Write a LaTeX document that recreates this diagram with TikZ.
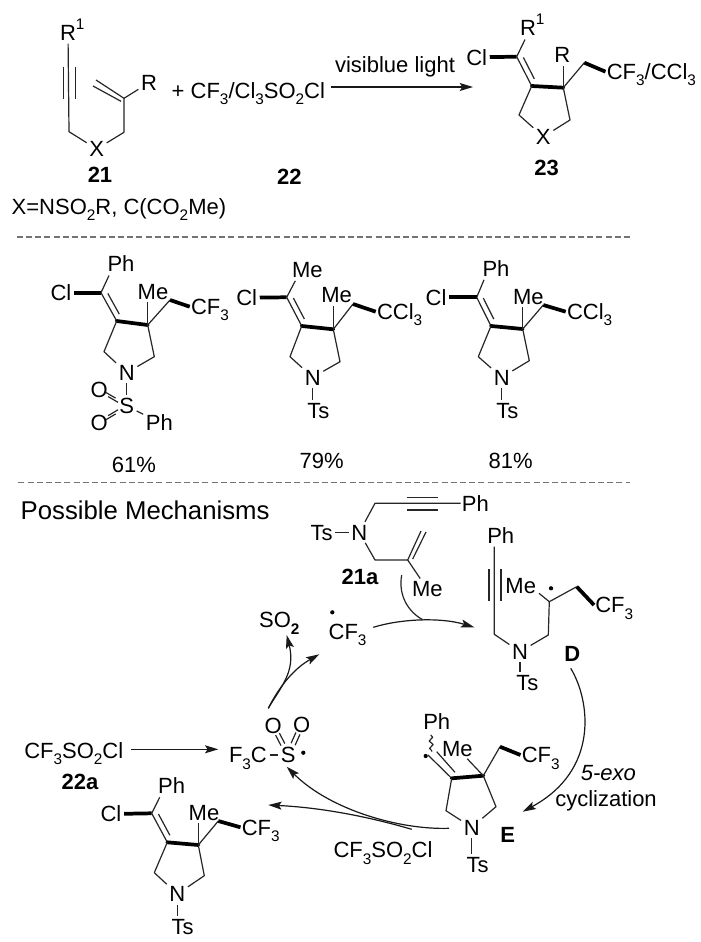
\documentclass[tikz,border=0pt]{standalone}
\usepackage{fontspec}
\setmainfont{Liberation Sans}
\usetikzlibrary{calc,arrows.meta,decorations.pathmorphing}
\newcommand\dn[1]{\raisebox{-0.28em}{\fontsize{11.5}{11.5}\selectfont #1}}
\newcommand\up[1]{\rlap{\raisebox{0.5em}{\fontsize{11.5}{11.5}\selectfont #1}}}
\newcommand\dbl[4]{%
  \draw[bond] ($(#1)!.36!(#2)+(#3,#4)$) -- ($(#1)!.72!(#2)+(#3,#4)$);
  \draw[bond] ($(#1)!.36!(#2)-(#3,#4)$) -- ($(#1)!.72!(#2)-(#3,#4)$);}
% common skeleton of the chlorovinyl pyrrolidines
\newcommand\scaffold[2]{%
  \draw[bond] (#1v) -- ($(#1top.south)+(#2,1)$);
  \draw[wedge] (#1cl) -- (#1v);
  \draw[bond] (#1v) -- (#1c1);
  \draw[bond] ($(#1v)!0.12!(#1c1)+(4.9,-2.7)$) -- ($(#1v)!0.85!(#1c1)+(4.9,-2.7)$);
  \draw[wedge,line cap=round] (#1c1) -- (#1c2);
  \draw[bond] (#1c1) -- (#1l) -- (#1n);
  \draw[bond] (#1c2) -- (#1r) -- (#1n);
  \draw[bond] (#1c2) -- (#1c2 |- #1me.south);
  \draw[bond] (#1c2) -- (#1m);
  \draw[wedge] (#1m) -- (#1lab.west);}
\tikzset{
  lab/.style={inner sep=2pt,outer sep=0pt,text height=11.8pt,text depth=0pt,text=black},
  tail/.style={lab,anchor=west,inner sep=1pt},
  bond/.style={line width=0.9pt,draw=black!85,line join=round},
  wedge/.style={line width=2.8pt,draw=black},
  arr/.style={line width=0.9pt,draw=black!90,-{Stealth[length=10pt,width=6pt,inset=2pt]}},
  arrs/.style={arr,line width=1.15pt},
  sep/.style={line width=0.85pt,draw=black!55,dash pattern=on 4.5pt off 2.4pt},
  rad/.style={circle,fill=black,inner sep=0pt,minimum size=3.2pt},
}
\begin{document}
\begin{tikzpicture}[x=0.75pt,y=-0.75pt,font=\fontsize{16.5}{18}\selectfont]
\path[fill=white,use as bounding box] (0,0) rectangle (700,942);

% ---------- reaction scheme: 21
\node[lab] (r1a) at (68,33) {R\up{1}};
\coordinate (t1) at (69,131.7);
\node[lab] (x21) at (96.7,149) {X};
\coordinate (t2) at (124,132.3);
\coordinate (t3) at (124,98.3);
\coordinate (t4) at (96,80);
\node[lab] (r21) at (149,82.7) {R};
\draw[bond] (r1a) -- (t1) -- (x21) -- (t2) -- (t3) -- (r21);
\draw[bond] (t3) -- (t4);
\draw[bond] ($(t3)+(-3,3)$) -- ($(t4)+(-3,6)$);
\coordinate (t5) at (69,66.7);
\coordinate (t6) at (69,99);
\draw[bond] ($(t5)+(-5.7,0)$) -- ($(t6)+(-5.7,0)$);
\draw[bond] ($(t5)+(6.7,0)$) -- ($(t6)+(6.7,0)$);
\node[lab,font=\fontsize{16.5}{18}\selectfont\bfseries] (n21) at (100,175) {21};
\node[lab,anchor=west,inner sep=0pt] (xdef) at (11.7,206.7) {X=NSO\dn{2}R, C(CO\dn{2}Me)};
\node[lab,anchor=west,inner sep=0pt] (reag) at (171.7,90.7) {+ CF\dn{3}/Cl\dn{3}SO\dn{2}Cl};
\node[lab,font=\fontsize{16.5}{18}\selectfont\bfseries] (n22) at (289.3,176.7) {22};
\coordinate (a1s) at (331,87);
\coordinate (a1e) at (473,87);
\draw[arrs] (a1s) -- (a1e);
\node[lab] (vis) at (395,65) {visiblue light};

% ---------- product 23
\coordinate (pv) at (516.7,56.7);
\coordinate (pc1) at (531.7,86);
\coordinate (pc2) at (563.3,87.7);
\coordinate (pl) at (519,115);
\coordinate (pr) at (570,120);
\coordinate (pm) at (584.3,62.7);
\node[lab] (pcl) at (476.7,57.3) {Cl};
\node[lab] (ptop) at (528,28) {R\up{1}};
\node[lab] (pme) at (562.3,55) {R};
\node[lab] (pn) at (543.3,136.7) {X};
\node[tail] (plab) at (605.5,71.7) {CF\dn{3}/CCl\dn{3}};
\scaffold{p}{-3}
\node[lab,font=\fontsize{16.5}{18}\selectfont\bfseries] (n23) at (546.7,167.7) {23};

\coordinate (d1a) at (16.7,237);
\coordinate (d1b) at (633,237);
\draw[sep] (d1a) -- (d1b);

% ---------- product with PhSO2
\coordinate (av) at (101,292.7);
\coordinate (ac1) at (116.7,321);
\coordinate (ac2) at (147.7,325);
\coordinate (al) at (104,351.7);
\coordinate (ar) at (154.3,356.7);
\coordinate (am) at (170,300);
\node[lab] (acl) at (61,292.7) {Cl};
\node[lab] (atop) at (121,264) {Ph};
\node[lab] (ame) at (153,291.7) {Me};
\node[lab] (an) at (126.7,372.7) {N};
\node[tail] (alab) at (189.7,306.7) {CF\dn{3}};
\scaffold{a}{-12}
\node[lab] (as) at (126.7,406) {S};
\node[lab] (ao1) at (99.3,390) {O};
\node[lab] (ao2) at (99.3,422.3) {O};
\node[lab] (aph) at (159.3,422.3) {Ph};
\draw[bond] (an) -- (as);
\draw[bond] (as) -- (aph);
\dbl{as}{ao1}{-1.2}{-2.1}
\dbl{as}{ao2}{1.2}{-2.1}
\node[lab] (ay) at (134,465) {61\%};

% ---------- product Me / CCl3
\coordinate (bv) at (286.7,297.3);
\coordinate (bc1) at (301.7,326);
\coordinate (bc2) at (333.3,329.3);
\coordinate (bl) at (290,356.7);
\coordinate (br) at (340,361.7);
\coordinate (bm) at (353,304);
\node[lab] (bcl) at (246.7,297.7) {Cl};
\node[lab] (btop) at (307.3,269.3) {Me};
\node[lab] (bme) at (336.7,295) {Me};
\node[lab] (bn) at (312.7,377.3) {N};
\node[tail] (blab) at (375.7,311.7) {CCl\dn{3}};
\scaffold{b}{-12}
\node[lab] (bts) at (318.3,410.7) {Ts};
\draw[bond] (bn.south) -- (bn.south |- bts.north);
\node[lab] (by) at (321.7,460.7) {79\%};

% ---------- product Ph / CCl3
\coordinate (cv) at (476.7,297.3);
\coordinate (cc1) at (491,326);
\coordinate (cc2) at (522.7,329);
\coordinate (cl) at (478.3,356.7);
\coordinate (cr) at (529.3,360.7);
\coordinate (cm) at (543.3,305);
\node[lab] (ccl) at (436,297.3) {Cl};
\node[lab] (ctop) at (496,268.3) {Ph};
\node[lab] (cme) at (528.3,296.7) {Me};
\node[lab] (cn) at (501.7,377.3) {N};
\node[tail] (clab) at (565.7,311.7) {CCl\dn{3}};
\scaffold{c}{-12}
\node[lab] (cts) at (507.3,410.7) {Ts};
\draw[bond] (cn.south) -- (cn.south |- cts.north);
\node[lab] (cy) at (510.7,460.7) {81\%};

\coordinate (d2a) at (18.3,482.3);
\coordinate (d2b) at (630,482.3);
\draw[sep] (d2a) -- (d2b);

% ---------- mechanism
\node[lab,anchor=west,inner sep=0pt,font=\fontsize{19.3}{21}\selectfont,text height=13.8pt] (head) at (20.7,510.7) {Possible Mechanisms};

% 21a
\node[lab] (sts) at (321.7,532.3) {Ts};
\node[lab] (sn) at (359.3,532.3) {N};
\coordinate (s1) at (375,503.3);
\node[tail] (sph) at (460.5,503.3) {Ph};
\coordinate (s2) at (375,560);
\coordinate (s3) at (407.7,560);
\coordinate (s4) at (421,531);
\node[lab] (sme) at (427.3,589) {Me};
\draw[bond] (sts) -- (sn);
\draw[bond] (sn) -- (s1) -- (sph.west);
\draw[bond] (sn) -- (s2) -- (s3) -- (sme);
\draw[bond] (s3) -- (s4);
\draw[bond] ($(s3)+(5,-1)$) -- ($(s4)+(5,1)$);
\coordinate (s5) at (406.7,503.3);
\coordinate (s6) at (438.3,503.3);
\draw[bond] ($(s5)+(0,-6)$) -- ($(s6)+(0,-6)$);
\draw[bond] ($(s5)+(0,6.7)$) -- ($(s6)+(0,6.7)$);
\node[lab,font=\fontsize{16.5}{18}\selectfont\bfseries] (n21a) at (360,576.7) {21a};

% radical CF3, SO2
\node[lab] (so2) at (279.3,620) {SO\dn{\textbf{2}}};
\node[tail] (rcf) at (327.3,631.7) {CF\dn{3}};
\node[rad] (rdot) at (332.3,612.3) {};
\coordinate (u1) at (373.3,627.3);
\coordinate (u2) at (474.3,627.3);
\coordinate (u3) at (401.7,575);
\coordinate (u4) at (423.3,620);
\draw[arr] (u1) .. controls (400,619) and (440,617) .. (u2);
\draw[bond] (u3) .. controls (398,595) and (408,612) .. (u4);

% D
\node[lab] (dph) at (500.7,536) {Ph};
\coordinate (d1) at (494.3,634.3);
\node[lab] (dn) at (520,651.7) {N};
\coordinate (d2) at (548.3,635);
\coordinate (d3) at (549.3,601.7);
\node[lab] (dme) at (520.7,585.7) {Me};
\coordinate (d4) at (576.7,586.7);
\node[tail] (dcf) at (594,605) {CF\dn{3}};
\node[rad] (ddot) at (551,588.3) {};
\node[lab] (dts) at (527.3,682.3) {Ts};
\node[lab,font=\fontsize{16.5}{18}\selectfont\bfseries] (dd) at (572.3,653.3) {D};
\coordinate (d5) at (539,593.3);
\draw[bond] (dph.south -| d1) -- (d1) -- (dn) -- (d2) -- (d3) -- (d4);
\draw[bond] (d3) -- (d5);
\draw[wedge] (d4) -- (dcf.west);
\draw[bond] (dn.south) -- (dts.north -| dn.south);
\coordinate (d6) at (495,569);
\coordinate (d7) at (495,601);
\draw[bond] ($(d6)+(-6,0)$) -- ($(d7)+(-6,0)$);
\draw[bond] ($(d6)+(6,0)$) -- ($(d7)+(6,0)$);

% D to E
\coordinate (v1) at (570.7,668.3);
\coordinate (v2) at (522.7,811.7);
\draw[arr] (v1) .. controls (590,700) and (600,770) .. (v2);
\node[lab] (exo) at (608.3,772.7) {\textit{5-exo}};
\node[lab,text depth=4pt] (cyc) at (606,801) {cyclization};

% E
\node[lab] (eph) at (436.7,721.7) {Ph};
\coordinate (ew1) at (430.7,735);
\coordinate (ew2) at (431.7,751.7);
\draw[bond,decorate,decoration={snake,segment length=5.5pt,amplitude=1.4pt}] (ew1) -- (ew2);
\node[rad] (edot) at (425.7,756) {};
\coordinate (ev) at (428,755);
\coordinate (ec1) at (451.7,778.3);
\coordinate (ec2) at (483.3,775.7);
\coordinate (ev2) at (436.7,751.7);
\coordinate (ev3) at (455,772.3);
\coordinate (el) at (446,810.7);
\coordinate (er) at (496,806.7);
\coordinate (em) at (500,746.7);
\node[lab] (eme) at (457.3,748.3) {Me};
\node[lab] (en) at (471.7,827.3) {N};
\node[tail] (elab) at (520.5,755) {CF\dn{3}};
\node[lab] (ets) at (477.7,865) {Ts};
\node[lab,font=\fontsize{16.5}{18}\selectfont\bfseries] (ee) at (507.7,835) {E};
\draw[bond] (ev) -- (ec1);
\draw[bond] (ev2) -- (ev3);
\draw[wedge,line cap=round] (ec1) -- (ec2);
\draw[bond] (ec1) -- (el) -- (en) -- (er) -- (ec2) -- (em);
\draw[bond] (ec2) -- (eme);
\draw[wedge] (em) -- (elab.west);
\draw[bond] (en.south) -- (en.south |- ets.north);

% sulfonyl radical
\node[lab] (cfs) at (73.8,750.7) {CF\dn{3}SO\dn{2}Cl};
\node[lab,font=\fontsize{16.5}{18}\selectfont\bfseries] (n22a) at (80,781.7) {22a};
\coordinate (w1) at (131,749.3);
\coordinate (w2) at (218.3,749.3);
\draw[arrs] (w1) -- (w2);
\node[lab,anchor=west,inner sep=0pt] (fc) at (229,755) {F\dn{3}C};
\node[lab] (ss) at (288.3,755) {S};
\node[lab] (so1) at (273.3,726) {O};
\node[lab] (so3) at (301.7,725) {O};
\node[rad] (sdot) at (303.3,752.7) {};
\draw[bond] ($(fc.east)+(3,0)$) -- (ss);
\dbl{ss}{so1}{1.9}{-1}
\dbl{ss}{so3}{2}{1}

% cycle arrows
\coordinate (q0) at (268.3,708.3);
\coordinate (q1) at (286.7,635);
\coordinate (q2) at (319.3,654.3);
\draw[arr] (q0) .. controls (280,688) and (296,672) .. (q1);
\draw[arr] (q0) .. controls (280,685) and (295,668) .. (q2);
\coordinate (q3) at (449,828.3);
\coordinate (q4) at (286.7,766.7);
\coordinate (q5) at (411.7,829.3);
\coordinate (q6) at (268.3,805);
\draw[arr] (q3) .. controls (400,830) and (330,810) .. (q4);
\draw[arr] (q5) .. controls (380,820) and (330,808) .. (q6);
\node[lab] (cfe) at (383,850) {CF\dn{3}SO\dn{2}Cl};

% lower product
\coordinate (fv) at (151.7,813.3);
\coordinate (fc1) at (167.3,842.3);
\coordinate (fc2) at (198.3,845);
\coordinate (fl) at (154.3,872.7);
\coordinate (fr) at (204.3,875.7);
\coordinate (fm) at (218.3,821);
\node[lab] (fcl) at (111,814) {Cl};
\node[lab] (ftop) at (171.7,785.7) {Ph};
\node[lab] (fme) at (204,812.7) {Me};
\node[lab] (fn) at (177.3,894) {N};
\node[tail] (flab) at (240.5,827.3) {CF\dn{3}};
\scaffold{f}{-12}
\node[lab] (fts) at (182.7,926.7) {Ts};
\draw[bond] (fn.south) -- (fn.south |- fts.north);
\end{tikzpicture}
\end{document}
